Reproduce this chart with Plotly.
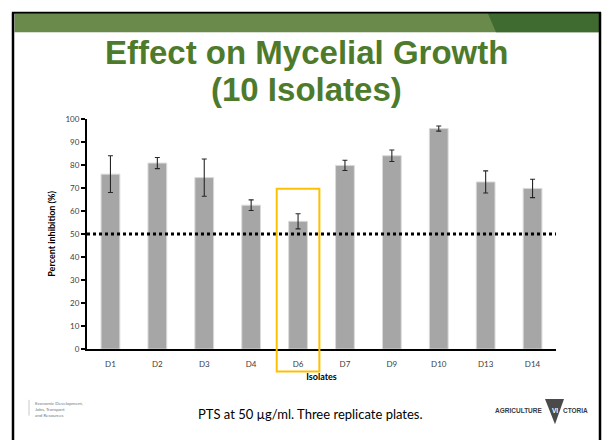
import plotly.graph_objects as go

# ---- data ----
isolates = ["D1", "D2", "D3", "D4", "D6", "D7", "D9", "D10", "D13", "D14"]
inhibition = [76.0, 80.8, 74.5, 62.5, 55.5, 79.8, 84.0, 95.8, 72.6, 69.8]
inhibition_err = [8.0, 2.4, 8.1, 2.3, 3.3, 2.2, 2.5, 1.1, 4.8, 4.0]
threshold = 50
highlight = "D6"
y_ticks = [0, 10, 20, 30, 40, 50, 60, 70, 80, 90, 100]

W, H = 602, 445


def px(x):
    return x / W


def py(y):
    return 1 - y / H


FONT = "Lato, 'Open Sans', sans-serif"
TITLE_GREEN = "#4E7A2B"

fig = go.Figure()
fig.add_trace(go.Bar(
    x=isolates, y=inhibition,
    marker=dict(color="#A6A6A6", line=dict(color="#DADADA", width=1)),
    error_y=dict(type="data", array=inhibition_err, color="#262626",
                 thickness=1.1, width=2.5),
    showlegend=False, hoverinfo="x+y",
))

hi = isolates.index(highlight)

shapes = [
    # slide frame
    dict(type="line", xref="paper", yref="paper", x0=px(13), x1=px(13), y0=py(7.5), y1=py(445),
         line=dict(color="black", width=2.5)),
    dict(type="line", xref="paper", yref="paper", x0=px(600), x1=px(600), y0=py(7.5), y1=py(445),
         line=dict(color="black", width=2.5)),
    dict(type="line", xref="paper", yref="paper", x0=px(12), x1=px(601), y0=py(8), y1=py(8),
         line=dict(color="black", width=2)),
    # green header band
    dict(type="rect", xref="paper", yref="paper", x0=px(14.5), x1=px(599), y0=py(9), y1=py(28),
         fillcolor="#6A8A4B", line=dict(width=0), layer="below"),
    dict(type="path", xref="paper", yref="paper",
         path=f"M {px(488)} {py(9)} L {px(599)} {py(9)} L {px(599)} {py(28)} L {px(496)} {py(28)} Z",
         fillcolor="#3F6A30", line=dict(width=0), layer="below"),
    # 50% threshold line
    dict(type="line", xref="x domain", yref="y", x0=0, x1=1, y0=threshold, y1=threshold,
         line=dict(color="black", width=3, dash="dot"), layer="above"),
    # highlight box around D6
    dict(type="rect", xref="x", yref="paper", x0=hi - 0.455, x1=hi + 0.455,
         y0=py(375), y1=py(188), line=dict(color="#FFC000", width=2), fillcolor="rgba(0,0,0,0)",
         layer="above"),
    # footer left divider
    dict(type="line", xref="paper", yref="paper", x0=px(29), x1=px(29), y0=py(404), y1=py(420),
         line=dict(color="#BBBBBB", width=0.8)),
    # Victoria triangle logo
    dict(type="path", xref="paper", yref="paper",
         path=f"M {px(545)} {py(403)} L {px(564)} {py(403)} L {px(555)} {py(429)} Z",
         fillcolor="#4A4A4A", line=dict(width=0)),
]

annotations = [
    dict(text="<b>Effect on Mycelial Growth</b>", xref="paper", yref="paper",
         x=px(306), y=py(49), showarrow=False,
         font=dict(family="'Liberation Sans', Arial, sans-serif", size=33, color=TITLE_GREEN),
         xanchor="center", yanchor="middle"),
    dict(text="<b>(10 Isolates)</b>", xref="paper", yref="paper",
         x=px(306), y=py(86), showarrow=False,
         font=dict(family="'Liberation Sans', Arial, sans-serif", size=33, color=TITLE_GREEN),
         xanchor="center", yanchor="middle"),
    dict(text="<b>Percent inhibition (%)</b>", xref="paper", yref="paper",
         x=px(52), y=py(234), showarrow=False, textangle=-90,
         font=dict(family=FONT, size=9, color="#000000"), xanchor="center", yanchor="middle"),
    dict(text="PTS at 50 µg/ml. Three replicate plates.", xref="paper", yref="paper",
         x=px(310), y=py(418), showarrow=False,
         font=dict(family=FONT, size=13, color="#000000"), xanchor="center", yanchor="middle"),
    dict(text="Economic Development,<br>Jobs, Transport<br>and Resources", xref="paper", yref="paper",
         x=px(33), y=py(414), showarrow=False, align="left",
         font=dict(family=FONT, size=4.5, color="#777777"), xanchor="left", yanchor="middle"),
    dict(text="<b>AGRICULTURE</b>", xref="paper", yref="paper",
         x=px(544), y=py(415), showarrow=False,
         font=dict(family="'Liberation Sans', Arial, sans-serif", size=6.5, color="#3A3A3A"),
         xanchor="right", yanchor="middle"),
    dict(text="<b>VI</b>", xref="paper", yref="paper",
         x=px(555), y=py(415), showarrow=False,
         font=dict(family="'Liberation Sans', Arial, sans-serif", size=6.5, color="#FFFFFF"),
         xanchor="center", yanchor="middle"),
    dict(text="<b>CTORIA</b>", xref="paper", yref="paper",
         x=px(561), y=py(415), showarrow=False,
         font=dict(family="'Liberation Sans', Arial, sans-serif", size=6.5, color="#3A3A3A"),
         xanchor="left", yanchor="middle"),
]

fig.update_layout(
    width=W, height=H,
    margin=dict(l=0, r=0, t=0, b=0),
    paper_bgcolor="white", plot_bgcolor="white",
    bargap=0.6,
    shapes=shapes, annotations=annotations,
    font=dict(family=FONT, color="#404040"),
    xaxis=dict(
        domain=[px(87), px(556)],
        showline=True, linecolor="black", linewidth=2,
        ticks="", showgrid=False,
        ticklabelstandoff=6,
        tickfont=dict(family=FONT, size=8, color="#404040"),
        title=dict(text="<b>Isolates</b>", font=dict(family=FONT, size=9, color="#000000"), standoff=6),
    ),
    yaxis=dict(
        domain=[py(352), py(116.5)],
        range=[0, 100], tickvals=y_ticks,
        showline=True, linecolor="black", linewidth=2,
        ticks="outside", ticklen=4, tickwidth=1.5, tickcolor="black",
        showgrid=False, zeroline=False,
        tickfont=dict(family=FONT, size=8, color="#404040"),
    ),
)

fig.write_html("out.html", config={"displayModeBar": False},
               post_script="document.body.style.margin='0';document.body.style.overflow='hidden';")
